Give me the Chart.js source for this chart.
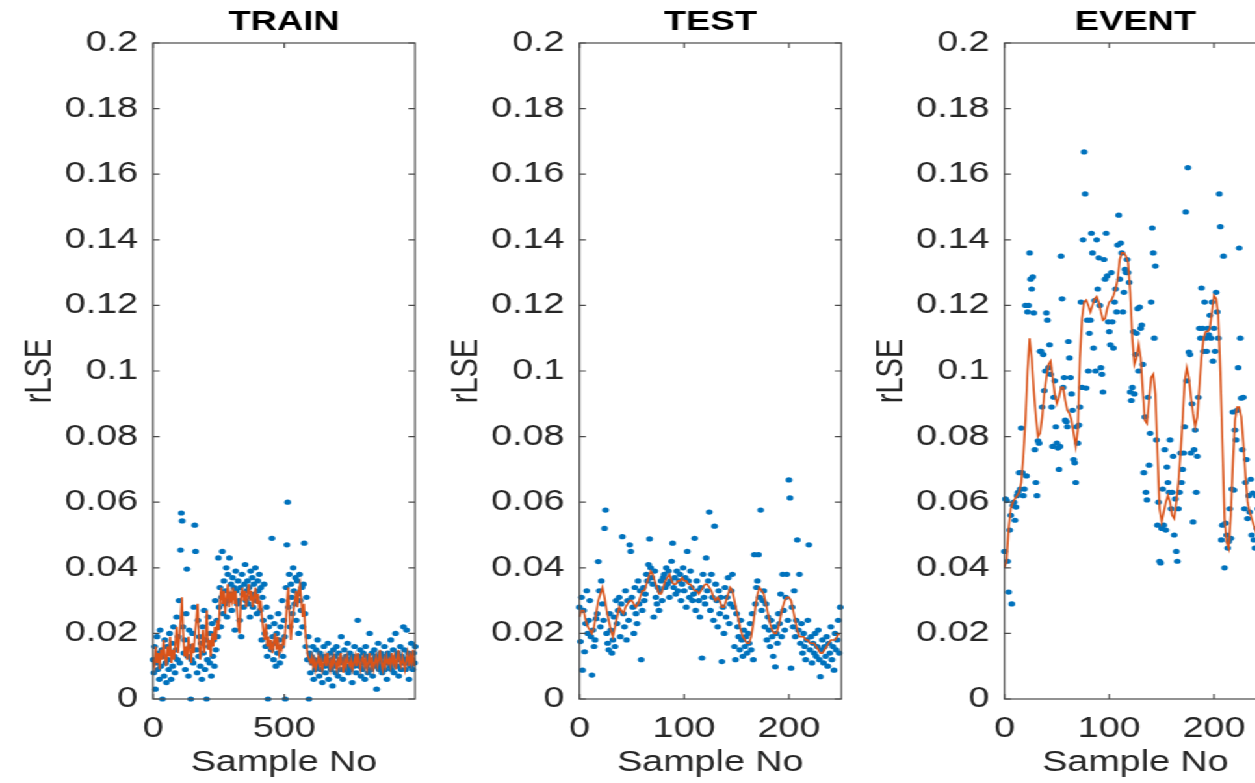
<!DOCTYPE html>
<html>
<head>
<meta charset="utf-8">
<title>rLSE</title>
<script src="https://cdn.jsdelivr.net/npm/chart.js@4.4.1/dist/chart.umd.min.js"></script>
<style>
  html, body { margin: 0; padding: 0; background: #fff; overflow: hidden; }
  /* the figure is laid out narrow and stretched sideways */
  #fig { position: absolute; left: 0; top: 0; width: 966px; height: 783px; transform: scaleX(1.3); transform-origin: 0 0; }
  #fig canvas { position: absolute; top: 0; }
</style>
</head>
<body>
<div id="fig">
  <canvas id="train" width="326" height="783" style="left:0px"></canvas>
  <canvas id="test" width="326" height="783" style="left:328px"></canvas>
  <canvas id="event" width="326" height="783" style="left:655px"></canvas>
</div>
<script>
// TRAIN: one value every 3 samples
const trainStep = 3;
const trainRlse = [
  0.012, 0.008, 0.016, 0.003, 0.011, 0.019, 0.009, 0.014, 0.006, 0.021,
  0.010, 0.015, 0.000, 0.013, 0.007, 0.018, 0.011, 0.005, 0.016, 0.012,
  0.009, 0.020, 0.014, 0.006, 0.017, 0.010, 0.022, 0.013, 0.008, 0.015,
  0.025, 0.012, 0.019, 0.030, 0.011, 0.0454, 0.0567, 0.0543, 0.022, 0.014,
  0.018, 0.009, 0.026, 0.0396, 0.013, 0.007, 0.021, 0.016, 0.000, 0.012,
  0.020, 0.011, 0.028, 0.053, 0.045, 0.015, 0.008, 0.024, 0.013, 0.019,
  0.010, 0.017, 0.006, 0.022, 0.014, 0.027, 0.009, 0.018, 0.000, 0.012,
  0.025, 0.016, 0.011, 0.020, 0.007, 0.023, 0.013, 0.018, 0.010, 0.030,
  0.015, 0.024, 0.019, 0.043, 0.028, 0.034, 0.022, 0.031, 0.045, 0.026,
  0.036, 0.029, 0.033, 0.040, 0.025, 0.038, 0.030, 0.043, 0.032, 0.035,
  0.027, 0.037, 0.031, 0.034, 0.021, 0.039, 0.033, 0.029, 0.036, 0.030,
  0.024, 0.034, 0.019, 0.038, 0.032, 0.028, 0.035, 0.041, 0.030, 0.033,
  0.036, 0.029, 0.034, 0.025, 0.039, 0.031, 0.037, 0.028, 0.035, 0.032,
  0.040, 0.030, 0.026, 0.036, 0.033, 0.038, 0.027, 0.034, 0.018, 0.031,
  0.024, 0.035, 0.020, 0.016, 0.028, 0.013, 0.000, 0.022, 0.017, 0.025,
  0.015, 0.049, 0.019, 0.012, 0.023, 0.017, 0.010, 0.020, 0.014, 0.026,
  0.018, 0.011, 0.022, 0.016, 0.030, 0.013, 0.024, 0.019, 0.000, 0.034,
  0.047, 0.060, 0.028, 0.038, 0.022, 0.035, 0.031, 0.026, 0.040, 0.033,
  0.029, 0.037, 0.024, 0.036, 0.032, 0.020, 0.038, 0.030, 0.027, 0.034,
  0.022, 0.035, 0.0475, 0.026, 0.016, 0.031, 0.012, 0.019, 0.000, 0.014,
  0.008, 0.013, 0.011, 0.016, 0.006, 0.012, 0.009, 0.015, 0.010, 0.018,
  0.011, 0.007, 0.014, 0.009, 0.013, 0.005, 0.012, 0.016, 0.010, 0.008,
  0.013, 0.011, 0.017, 0.006, 0.010, 0.014, 0.009, 0.012, 0.004, 0.015,
  0.010, 0.013, 0.008, 0.016, 0.011, 0.007, 0.014, 0.012, 0.009, 0.019,
  0.012, 0.006, 0.011, 0.015, 0.009, 0.013, 0.010, 0.017, 0.008, 0.012,
  0.014, 0.009, 0.011, 0.005, 0.013, 0.010, 0.016, 0.012, 0.008, 0.011,
  0.024, 0.013, 0.010, 0.015, 0.007, 0.012, 0.009, 0.014, 0.011, 0.006,
  0.016, 0.010, 0.013, 0.008, 0.012, 0.020, 0.011, 0.009, 0.014, 0.007,
  0.012, 0.015, 0.010, 0.013, 0.003, 0.011, 0.017, 0.009, 0.012, 0.014,
  0.010, 0.008, 0.013, 0.011, 0.016, 0.009, 0.012, 0.006, 0.014, 0.011,
  0.013, 0.010, 0.018, 0.009, 0.012, 0.015, 0.008, 0.011, 0.020, 0.013,
  0.010, 0.014, 0.007, 0.012, 0.016, 0.009, 0.013, 0.011, 0.022, 0.015,
  0.012, 0.009, 0.021, 0.011, 0.014, 0.006, 0.013, 0.010, 0.017, 0.012,
  0.009, 0.014, 0.011, 0.016
];
// TRAIN filtered curve, one value every 5 samples
const trainLineStep = 5;
const trainLine = [
  0.012, 0.010, 0.016, 0.011, 0.014, 0.009, 0.015, 0.012, 0.018, 0.013,
  0.010, 0.016, 0.013, 0.019, 0.011, 0.015, 0.012, 0.017, 0.022, 0.014,
  0.018, 0.024, 0.031, 0.020, 0.013, 0.016, 0.012, 0.019, 0.015, 0.011,
  0.017, 0.014, 0.020, 0.024, 0.029, 0.018, 0.012, 0.016, 0.021, 0.014,
  0.019, 0.027, 0.015, 0.018, 0.013, 0.020, 0.016, 0.022, 0.018, 0.024,
  0.021, 0.030, 0.034, 0.029, 0.033, 0.026, 0.031, 0.035, 0.028, 0.032,
  0.030, 0.034, 0.029, 0.033, 0.027, 0.022, 0.020, 0.031, 0.034, 0.030,
  0.033, 0.028, 0.032, 0.035, 0.030, 0.033, 0.028, 0.031, 0.034, 0.029,
  0.032, 0.027, 0.030, 0.025, 0.021, 0.018, 0.023, 0.016, 0.019, 0.015,
  0.018, 0.014, 0.017, 0.020, 0.015, 0.019, 0.014, 0.016, 0.015, 0.018,
  0.017, 0.022, 0.029, 0.034, 0.025, 0.018, 0.023, 0.027, 0.030, 0.033,
  0.028, 0.033, 0.035, 0.030, 0.025, 0.029, 0.021, 0.016, 0.013, 0.012,
  0.011, 0.013, 0.010, 0.012, 0.009, 0.011, 0.013, 0.010, 0.012, 0.009,
  0.011, 0.013, 0.010, 0.014, 0.011, 0.009, 0.012, 0.010, 0.013, 0.011,
  0.009, 0.012, 0.010, 0.014, 0.011, 0.008, 0.012, 0.010, 0.013, 0.011,
  0.010, 0.012, 0.009, 0.011, 0.013, 0.010, 0.014, 0.011, 0.009, 0.012,
  0.013, 0.010, 0.012, 0.009, 0.011, 0.014, 0.010, 0.012, 0.009, 0.011,
  0.013, 0.010, 0.012, 0.015, 0.011, 0.009, 0.012, 0.010, 0.013, 0.011,
  0.012, 0.010, 0.014, 0.011, 0.013, 0.009, 0.012, 0.015, 0.011, 0.010,
  0.013, 0.011, 0.009, 0.012, 0.014, 0.010, 0.013, 0.011, 0.015, 0.010
];
const trainXTicks = [0, 500];

// TEST: one value per sample
const testStep = 1;
const testRlse = [
  0.028, 0.0175, 0.031, 0.0088, 0.027, 0.0144, 0.023, 0.033, 0.020, 0.024,
  0.030, 0.019, 0.0073, 0.021, 0.016, 0.018, 0.0245, 0.026, 0.0419, 0.033,
  0.022, 0.036, 0.029, 0.024, 0.052, 0.0576, 0.020, 0.017, 0.015, 0.026,
  0.021, 0.014, 0.018, 0.025, 0.016, 0.030, 0.023, 0.027, 0.031, 0.019,
  0.029, 0.0495, 0.026, 0.022, 0.033, 0.018, 0.030, 0.024, 0.047, 0.045,
  0.031, 0.028, 0.020, 0.034, 0.026, 0.023, 0.036, 0.029, 0.033, 0.012,
  0.027, 0.034, 0.030, 0.032, 0.038, 0.036, 0.041, 0.0488, 0.040, 0.037,
  0.035, 0.025, 0.039, 0.031, 0.029, 0.034, 0.027, 0.033, 0.036, 0.030,
  0.037, 0.038, 0.034, 0.040, 0.035, 0.039, 0.031, 0.036, 0.042, 0.0475,
  0.034, 0.037, 0.032, 0.039, 0.033, 0.036, 0.038, 0.030, 0.035, 0.040,
  0.033, 0.037, 0.028, 0.045, 0.036, 0.031, 0.039, 0.034, 0.030, 0.032,
  0.049, 0.027, 0.036, 0.033, 0.030, 0.025, 0.034, 0.0125, 0.038, 0.031,
  0.029, 0.043, 0.033, 0.036, 0.057, 0.027, 0.038, 0.031, 0.024, 0.0527,
  0.035, 0.030, 0.022, 0.033, 0.026, 0.031, 0.0114, 0.028, 0.020, 0.034,
  0.025, 0.031, 0.037, 0.023, 0.029, 0.033, 0.038, 0.028, 0.016, 0.012,
  0.026, 0.022, 0.019, 0.015, 0.024, 0.018, 0.013, 0.021, 0.016, 0.019,
  0.014, 0.020, 0.017, 0.023, 0.015, 0.026, 0.012, 0.044, 0.029, 0.034,
  0.036, 0.044, 0.031, 0.0576, 0.027, 0.030, 0.033, 0.022, 0.029, 0.018,
  0.025, 0.021, 0.016, 0.024, 0.019, 0.013, 0.022, 0.0098, 0.020, 0.017,
  0.026, 0.023, 0.032, 0.019, 0.038, 0.027, 0.021, 0.031, 0.038, 0.024,
  0.0668, 0.0613, 0.0094, 0.028, 0.022, 0.033, 0.019, 0.024, 0.0485, 0.021,
  0.038, 0.017, 0.023, 0.014, 0.020, 0.016, 0.012, 0.018, 0.024, 0.047,
  0.015, 0.019, 0.011, 0.017, 0.014, 0.020, 0.013, 0.016, 0.021, 0.012,
  0.0068, 0.015, 0.018, 0.011, 0.016, 0.013, 0.019, 0.010, 0.017, 0.014,
  0.022, 0.012, 0.016, 0.0088, 0.020, 0.015, 0.018, 0.024, 0.014, 0.028
];
const testLineStep = 2;
const testLine = [
  0.025, 0.027, 0.027, 0.024, 0.022, 0.021, 0.020, 0.022, 0.026, 0.030,
  0.032, 0.034, 0.031, 0.027, 0.024, 0.021, 0.019, 0.022, 0.025, 0.028,
  0.027, 0.026, 0.028, 0.029, 0.030, 0.030, 0.029, 0.028, 0.029, 0.031,
  0.033, 0.033, 0.035, 0.037, 0.039, 0.038, 0.036, 0.034, 0.032, 0.032,
  0.034, 0.036, 0.037, 0.038, 0.036, 0.035, 0.035, 0.036, 0.036, 0.037,
  0.036, 0.036, 0.035, 0.035, 0.034, 0.033, 0.033, 0.032, 0.033, 0.034,
  0.035, 0.035, 0.034, 0.033, 0.031, 0.030, 0.031, 0.030, 0.028, 0.028,
  0.030, 0.032, 0.034, 0.033, 0.030, 0.027, 0.024, 0.021, 0.019, 0.018,
  0.017, 0.017, 0.019, 0.023, 0.028, 0.032, 0.034, 0.033, 0.032, 0.029,
  0.026, 0.023, 0.021, 0.020, 0.020, 0.022, 0.025, 0.028, 0.030, 0.031,
  0.031, 0.030, 0.027, 0.024, 0.021, 0.019, 0.019, 0.019, 0.018, 0.018,
  0.017, 0.017, 0.017, 0.016, 0.015, 0.014, 0.014, 0.015, 0.016, 0.017,
  0.018, 0.018, 0.018, 0.019, 0.020
];
const testXTicks = [0, 100, 200];

// EVENT: one value per sample
const eventStep = 1;
const eventRlse = [
  0.045, 0.061, 0.0605, 0.042, 0.0326, 0.0515, 0.056, 0.029, 0.059, 0.060,
  0.0545, 0.0585, 0.062, 0.063, 0.069, 0.064, 0.0826, 0.069, 0.062, 0.064,
  0.120, 0.068, 0.118, 0.120, 0.136, 0.128, 0.125, 0.1287, 0.1177, 0.076,
  0.066, 0.062, 0.0787, 0.078, 0.106, 0.106, 0.089, 0.105, 0.094, 0.100,
  0.1177, 0.1155, 0.101, 0.108, 0.099, 0.089, 0.077, 0.092, 0.097, 0.083,
  0.078, 0.0765, 0.070, 0.077, 0.135, 0.122, 0.095, 0.098, 0.085, 0.0845,
  0.083, 0.109, 0.104, 0.098, 0.093, 0.088, 0.073, 0.072, 0.066, 0.083,
  0.078, 0.0835, 0.089, 0.121, 0.095, 0.140, 0.1668, 0.154, 0.0948, 0.1155,
  0.100, 0.1115, 0.1155, 0.142, 0.136, 0.107, 0.1215, 0.100, 0.140, 0.125,
  0.1345, 0.120, 0.101, 0.099, 0.0936, 0.134, 0.128, 0.142, 0.129, 0.115,
  0.112, 0.108, 0.130, 0.115, 0.107, 0.121, 0.125, 0.118, 0.1384, 0.1475,
  0.128, 0.139, 0.136, 0.118, 0.124, 0.131, 0.130, 0.134, 0.130, 0.127,
  0.0936, 0.091, 0.095, 0.112, 0.093, 0.105, 0.1115, 0.119, 0.100, 0.1195,
  0.113, 0.114, 0.102, 0.069, 0.086, 0.063, 0.0607, 0.092, 0.0713, 0.081,
  0.121, 0.1436, 0.136, 0.110, 0.132, 0.079, 0.053, 0.060, 0.042, 0.0415,
  0.052, 0.064, 0.053, 0.076, 0.0515, 0.0707, 0.066, 0.063, 0.079, 0.058,
  0.063, 0.074, 0.050, 0.061, 0.045, 0.042, 0.058, 0.063, 0.075, 0.066,
  0.070, 0.075, 0.083, 0.1485, 0.097, 0.162, 0.1058, 0.105, 0.075, 0.090,
  0.054, 0.076, 0.082, 0.063, 0.074, 0.092, 0.113, 0.110, 0.1253, 0.113,
  0.106, 0.121, 0.110, 0.106, 0.113, 0.111, 0.117, 0.110, 0.121, 0.103,
  0.113, 0.106, 0.124, 0.118, 0.110, 0.154, 0.144, 0.0485, 0.053, 0.135,
  0.040, 0.0536, 0.050, 0.046, 0.048, 0.058, 0.049, 0.064, 0.0875, 0.0637,
  0.082, 0.079, 0.088, 0.101, 0.1375, 0.110, 0.0917, 0.076, 0.092, 0.058,
  0.066, 0.073, 0.055, 0.062, 0.057, 0.067, 0.050, 0.0628, 0.0485, 0.046,
  0.062, 0.052, 0.058, 0.048, 0.055, 0.060, 0.050, 0.057, 0.053, 0.061
];
const eventLineStep = 2;
const eventLine = [
  0.040, 0.042, 0.052, 0.058, 0.060, 0.061, 0.062, 0.063, 0.066, 0.074,
  0.085, 0.100, 0.110, 0.104, 0.094, 0.086, 0.080, 0.081, 0.086, 0.093,
  0.098, 0.102, 0.103, 0.098, 0.093, 0.090, 0.092, 0.095, 0.095, 0.091,
  0.088, 0.087, 0.085, 0.081, 0.077, 0.082, 0.104, 0.116, 0.121, 0.1216,
  0.120, 0.118, 0.120, 0.122, 0.1227, 0.121, 0.118, 0.1155, 0.116, 0.119,
  0.121, 0.1216, 0.123, 0.125, 0.128, 0.134, 0.136, 0.136, 0.135, 0.133,
  0.124, 0.110, 0.102, 0.104, 0.108, 0.104, 0.094, 0.085, 0.084, 0.091,
  0.098, 0.099, 0.093, 0.075, 0.058, 0.054, 0.057, 0.060, 0.062, 0.060,
  0.056, 0.055, 0.060, 0.066, 0.075, 0.085, 0.097, 0.101, 0.098, 0.092,
  0.087, 0.083, 0.086, 0.095, 0.104, 0.110, 0.112, 0.112, 0.113, 0.118,
  0.123, 0.122, 0.117, 0.100, 0.078, 0.055, 0.048, 0.046, 0.056, 0.072,
  0.085, 0.089, 0.089, 0.086, 0.078, 0.068, 0.060, 0.057, 0.055, 0.053,
  0.051, 0.053, 0.056, 0.058, 0.057
];
const eventXTicks = [0, 100, 200];

// shared y axis
const rlseTicks = [0, 0.02, 0.04, 0.06, 0.08, 0.1, 0.12, 0.14, 0.16, 0.18, 0.2];
const textColor = "#262626";

Chart.defaults.font.family = "'Liberation Sans', Arial, sans-serif";
Chart.defaults.font.size = 29;

// closed box with short inward tick marks
const boxAxes = {
  id: "boxAxes",
  afterDatasetsDraw(chart) {
    const { ctx, chartArea: a, scales } = chart;
    const len = 5;
    ctx.save();
    ctx.strokeStyle = "#4a4a4a";
    ctx.lineWidth = 1.2;
    ctx.strokeRect(a.left, a.top, a.right - a.left, a.bottom - a.top);
    ctx.beginPath();
    scales.y.ticks.forEach((t) => {
      const py = scales.y.getPixelForValue(t.value);
      ctx.moveTo(a.left, py);
      ctx.lineTo(a.left + len, py);
      ctx.moveTo(a.right, py);
      ctx.lineTo(a.right - len, py);
    });
    scales.x.ticks.forEach((t) => {
      const px = scales.x.getPixelForValue(t.value);
      ctx.moveTo(px, a.bottom);
      ctx.lineTo(px, a.bottom - len);
      ctx.moveTo(px, a.top);
      ctx.lineTo(px, a.top + len);
    });
    ctx.stroke();
    ctx.restore();
  },
};

const pintarPanel = (id, titulo, step, valores, lineStep, linea, xMax, xTicks) => {
  new Chart(document.getElementById(id), {
    type: "scatter",
    data: {
      datasets: [
        {
          data: linea.map((v, i) => ({ x: i * lineStep, y: v })),
          showLine: true,
          borderColor: "#D95319",
          borderWidth: 1.6,
          pointRadius: 0,
          order: 0,
          clip: 4,
        },
        {
          data: valores.map((v, i) => ({ x: i * step, y: v })),
          backgroundColor: "#0072BD",
          borderWidth: 0,
          pointRadius: 2.6,
          order: 1,
          clip: 4,
        },
      ],
    },
    options: {
      responsive: false,
      animation: false,
      events: [],
      layout: { padding: { left: 0, right: 6.8, top: 0, bottom: 0 } },
      plugins: {
        legend: { display: false },
        tooltip: { enabled: false },
        title: {
          display: true,
          text: titulo,
          fullSize: false,
          color: "#000",
          font: { size: 28, weight: "bold" },
          padding: { top: 5.2, bottom: 4.2 },
        },
      },
      scales: {
        x: {
          type: "linear",
          min: 0,
          max: xMax,
          grid: { display: false, drawTicks: false },
          border: { display: false },
          ticks: { padding: 12.6, color: textColor, maxRotation: 0 },
          afterBuildTicks: (s) => { s.ticks = xTicks.map((v) => ({ value: v })); },
          title: { display: true, text: "Sample No", color: textColor, padding: { top: 0, bottom: 2.6 } },
          afterFit: (s) => { s.height = 84; },
        },
        y: {
          min: 0,
          max: 0.2,
          grid: { display: false, drawTicks: false },
          border: { display: false },
          ticks: {
            padding: 11.5,
            color: textColor,
            callback: (v) => String(+v.toFixed(2)),
          },
          afterBuildTicks: (s) => { s.ticks = rlseTicks.map((v) => ({ value: v })); },
          title: { display: true, text: "rLSE", color: textColor, padding: { top: 13.4, bottom: 0 } },
          afterFit: (s) => { s.width = 117.7; },
        },
      },
    },
    plugins: [boxAxes],
  });
};

pintarPanel("train", "TRAIN", trainStep, trainRlse, trainLineStep, trainLine, 998, trainXTicks);
pintarPanel("test", "TEST", testStep, testRlse, testLineStep, testLine, 250, testXTicks);
pintarPanel("event", "EVENT", eventStep, eventRlse, eventLineStep, eventLine, 250, eventXTicks);
</script>
</body>
</html>
